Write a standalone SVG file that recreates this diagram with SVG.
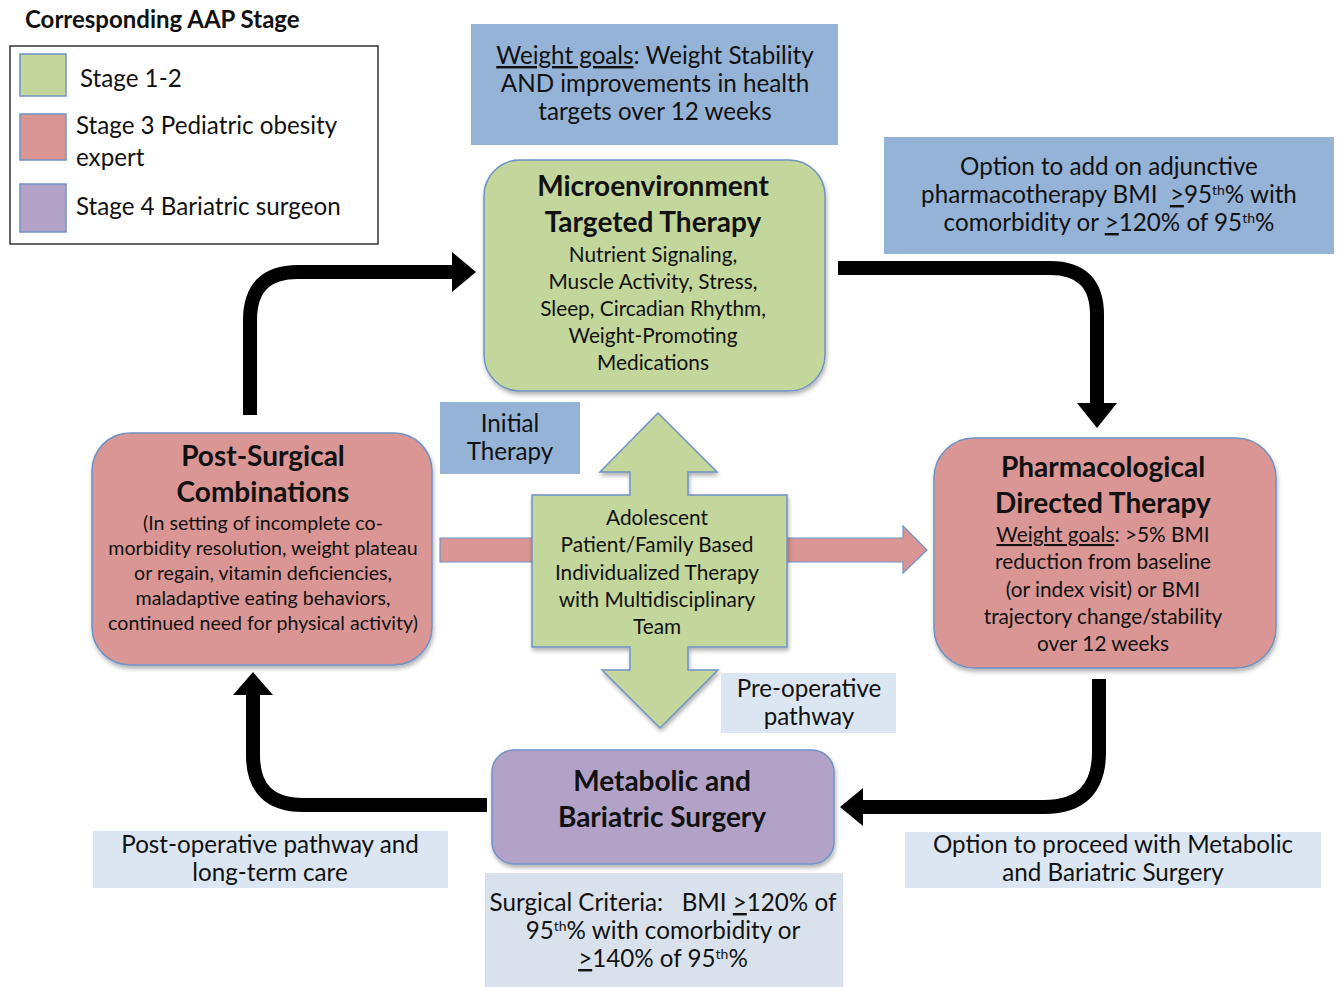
<svg xmlns="http://www.w3.org/2000/svg" width="1342" height="987" viewBox="0 0 1342 987">
<defs>
<style>
text{font-family:Lato,"Open Sans","Liberation Sans",sans-serif;fill:#111;}
.c{text-anchor:middle;}
.b{font-weight:bold;}
.t23{font-size:24.2px;}
.t20{font-size:20.8px;}
.t19{font-size:19.6px;}
.h{font-size:28px;font-weight:bold;}
.node{stroke:#6F93C6;stroke-width:1.5;filter:url(#sh);}
.green{fill:#C3D69B;}
.red{fill:#D99694;}
.purple{fill:#B3A2C7;}
.blue{fill:#95B3D7;}
.light{fill:#DCE6F2;}
.flow{fill:none;stroke:#000;stroke-width:14;}
.u{text-decoration:underline;}
.sup{font-size:14px;}
</style>
<filter id="sh" x="-10%" y="-10%" width="120%" height="125%">
<feDropShadow dx="1" dy="3" stdDeviation="2" flood-color="#000" flood-opacity="0.3"/>
</filter>
</defs>

<g id="legend">
<text x="25" y="28" class="b" style="font-size:24px">Corresponding AAP Stage</text>
<rect x="10" y="46" width="368" height="198" fill="#fff" stroke="#333" stroke-width="1.5"/>
<rect x="20" y="54" width="46" height="42" class="green" stroke="#6F93C6" stroke-width="1.5"/>
<rect x="20" y="114" width="46" height="46" class="red" stroke="#6F93C6" stroke-width="1.5"/>
<rect x="20" y="184" width="46" height="48" class="purple" stroke="#6F93C6" stroke-width="1.5"/>
<text x="80" y="87" class="t23">Stage 1-2</text>
<text x="76" y="134" class="t23">Stage 3 Pediatric obesity</text>
<text x="76" y="166" class="t23">expert</text>
<text x="76" y="215" class="t23">Stage 4 Bariatric surgeon</text>
</g>

<g id="connectors">
<path class="flow" d="M250,415 V320 Q250,272 298,272 H454"/>
<polygon points="452,252 476,272 452,292" fill="#000"/>
<path class="flow" d="M838,268 H1050 Q1097,268 1097,315 V405"/>
<polygon points="1077,403 1097,428 1117,403" fill="#000"/>
<path class="flow" d="M1099,679 V752 Q1099,807 1044,807 H862"/>
<polygon points="863,788 840,807 863,826" fill="#000"/>
<path class="flow" d="M487,805 H303 Q253,805 253,755 V694"/>
<polygon points="233,695 253,672 273,695" fill="#000"/>
<polygon points="440,538 903,538 903,526 927,550 903,573 903,562 440,562" class="red" stroke="#6F93C6" stroke-width="1.2"/>
</g>

<g id="weight-goals-top">
<rect x="471" y="24" width="367" height="121" class="blue"/>
<text class="c t23" x="655" y="64"><tspan class="u">Weight goals</tspan>: Weight Stability</text>
<text class="c t23" x="655" y="92">AND improvements in health</text>
<text class="c t23" x="655" y="120">targets over 12 weeks</text>
</g>

<g id="microenvironment">
<rect x="484" y="160" width="341" height="231" rx="36" class="node green"/>
<text class="c h" x="653" y="196">Microenvironment</text>
<text class="c h" x="653" y="232">Targeted Therapy</text>
<text class="c t20" x="653" y="262">Nutrient Signaling,</text>
<text class="c t20" x="653" y="289">Muscle Activity, Stress,</text>
<text class="c t20" x="653" y="316">Sleep, Circadian Rhythm,</text>
<text class="c t20" x="653" y="343">Weight-Promoting</text>
<text class="c t20" x="653" y="370">Medications</text>
</g>

<g id="adjunctive-option">
<rect x="884" y="137" width="450" height="117" class="blue"/>
<text class="c t23" x="1109" y="175">Option to add on adjunctive</text>
<text class="c t23" x="1109" y="203">pharmacotherapy BMI&#160; <tspan class="u">&gt;</tspan>95<tspan baseline-shift="super" class="sup">th</tspan>% with</text>
<text class="c t23" x="1109" y="231">comorbidity or <tspan class="u">&gt;</tspan>120% of 95<tspan baseline-shift="super" class="sup">th</tspan>%</text>
</g>

<g id="initial-therapy">
<rect x="440" y="402" width="140" height="72" class="blue"/>
<text class="c t23" x="510" y="432">Initial</text>
<text class="c t23" x="510" y="460">Therapy</text>
</g>

<g id="post-surgical">
<rect x="92" y="433" width="340" height="232" rx="38" class="node red"/>
<text class="c h" x="263" y="466">Post-Surgical</text>
<text class="c h" x="263" y="502">Combinations</text>
<text class="c t19" x="263" y="530">(In setting of incomplete co-</text>
<text class="c t19" x="263" y="555">morbidity resolution, weight plateau</text>
<text class="c t19" x="263" y="580">or regain, vitamin deficiencies,</text>
<text class="c t19" x="263" y="605">maladaptive eating behaviors,</text>
<text class="c t19" x="263" y="630">continued need for physical activity)</text>
</g>

<g id="pharmacological">
<rect x="934" y="438" width="342" height="230" rx="40" class="node red"/>
<text class="c h" x="1103" y="477">Pharmacological</text>
<text class="c h" x="1103" y="513">Directed Therapy</text>
<text class="c t20" x="1103" y="542"><tspan class="u">Weight goals</tspan>: &gt;5% BMI</text>
<text class="c t20" x="1103" y="569">reduction from baseline</text>
<text class="c t20" x="1103" y="597">(or index visit) or BMI</text>
<text class="c t20" x="1103" y="624">trajectory change/stability</text>
<text class="c t20" x="1103" y="651">over 12 weeks</text>
</g>

<g id="adolescent-center">
<polygon points="658,413 717,472 688,472 688,495 787,495 787,647 688,647 688,670 718,670 660,728 602,670 630,670 630,647 532,647 532,495 630,495 630,472 600,472" class="green" stroke="#6F93C6" stroke-width="1.5" filter="url(#sh)"/>
<text class="c t20" x="657" y="525">Adolescent</text>
<text class="c t20" x="657" y="552">Patient/Family Based</text>
<text class="c t20" x="657" y="580">Individualized Therapy</text>
<text class="c t20" x="657" y="607">with Multidisciplinary</text>
<text class="c t20" x="657" y="634">Team</text>
</g>

<g id="pre-operative">
<rect x="721" y="673" width="175" height="60" class="light"/>
<text class="c t23" x="809" y="697">Pre-operative</text>
<text class="c t23" x="809" y="725">pathway</text>
</g>

<g id="metabolic-surgery">
<rect x="492" y="750" width="342" height="114" rx="22" class="node purple"/>
<text class="c h" x="662" y="791">Metabolic and</text>
<text class="c h" x="662" y="827">Bariatric Surgery</text>
</g>

<g id="surgical-criteria">
<rect x="485" y="873" width="358" height="114" fill="#D9E1EC"/>
<text class="c t23" x="663" y="911">Surgical Criteria:&#160;&#160; BMI <tspan class="u">&gt;</tspan>120% of</text>
<text class="c t23" x="663" y="939">95<tspan baseline-shift="super" class="sup">th</tspan>% with comorbidity or</text>
<text class="c t23" x="663" y="967"><tspan class="u">&gt;</tspan>140% of 95<tspan baseline-shift="super" class="sup">th</tspan>%</text>
</g>

<g id="post-operative">
<rect x="93" y="831" width="355" height="57" class="light"/>
<text class="c t23" x="270" y="853">Post-operative pathway and</text>
<text class="c t23" x="270" y="881">long-term care</text>
</g>

<g id="proceed-option">
<rect x="905" y="832" width="416" height="56" class="light"/>
<text class="c t23" x="1113" y="853">Option to proceed with Metabolic</text>
<text class="c t23" x="1113" y="881">and Bariatric Surgery</text>
</g>
</svg>
